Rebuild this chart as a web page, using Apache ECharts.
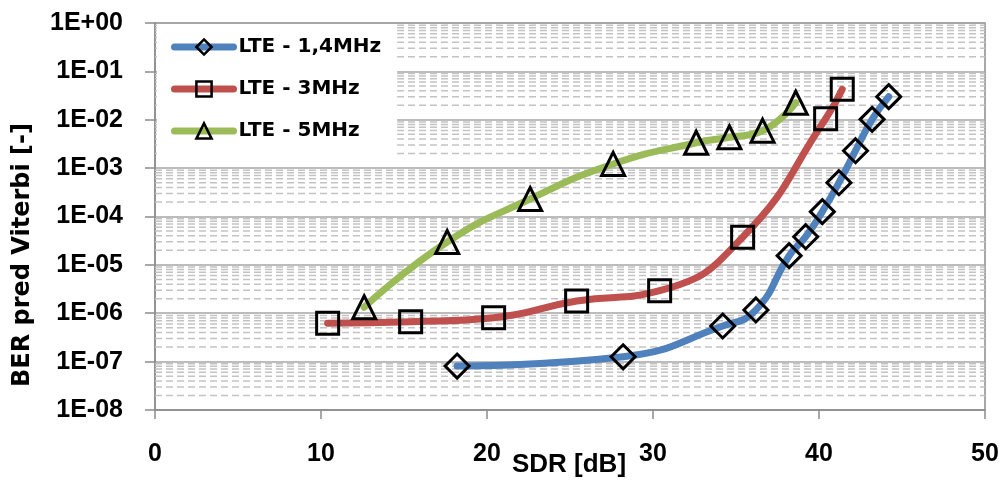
<!DOCTYPE html>
<html>
<head>
<meta charset="utf-8">
<script src="https://cdn.jsdelivr.net/npm/echarts@6/dist/echarts.min.js"></script>
<style>html,body{margin:0;padding:0;background:#fff}#c{width:1004px;height:481px}</style>
</head>
<body>
<div id="c"></div>
<script>
// ---- data ----
const SERIES_NAMES = ['LTE - 1,4MHz', 'LTE - 3MHz', 'LTE - 5MHz'];
const X_14 = [18.2, 28.2, 34.2, 36.2, 38.2, 39.2, 40.2, 41.2, 42.2, 43.2, 44.2];
const Y_14 = [8.1e-8, 1.26e-7, 5.45e-7, 1.17e-6, 1.55e-5, 3.82e-5, 1.26e-4, 5.0e-4, 2.29e-3, 1.02e-2, 3.0e-2];
const X_3 = [10.4, 15.4, 20.4, 25.4, 30.4, 35.4, 40.4, 41.4];
const Y_3 = [6.2e-7, 6.7e-7, 8.1e-7, 1.79e-6, 2.92e-6, 3.72e-5, 1.05e-2, 4.26e-2];
const X_5 = [12.6, 17.6, 22.6, 27.6, 32.6, 34.6, 36.6, 38.6];
const Y_5 = [1.33e-6, 2.97e-5, 2.3e-4, 1.22e-3, 3.35e-3, 4.34e-3, 5.94e-3, 2.25e-2];
const X_TICKS = [0, 10, 20, 30, 40, 50];
const Y_TICK_LABELS = ['1E-08', '1E-07', '1E-06', '1E-05', '1E-04', '1E-03', '1E-02', '1E-01', '1E+00'];
const X_TITLE = 'SDR [dB]';
const Y_TITLE = 'BER pred Viterbi [-]';

// minor (dashed) gridlines at 2..9 x 10^d
const MINOR_GRID = [];
for (let d = -8; d < 0; d++) for (let k = 2; k <= 9; k++) MINOR_GRID.push(k * Math.pow(10, d));

const pairs = (xs, ys) => xs.map((x, i) => [x, ys[i]]);
const COLORS = ['#4F81BD', '#C0504D', '#9BBB59'];
const SYMBOLS = ['diamond', 'rect', 'triangle'];
const SYMBOL_SIZES = [24, 22, 23];
const DATA = [pairs(X_14, Y_14), pairs(X_3, Y_3), pairs(X_5, Y_5)];

// dashed minor grid drawn as one broken line through the axes
const minorData = [];
MINOR_GRID.forEach(v => { minorData.push([0, v], [50, v], ['-', '-']); });

const numFont = '"Liberation Sans", Arial, sans-serif';
const txtFont = '"DejaVu Sans", sans-serif';

const chart = echarts.init(document.getElementById('c'), null, {renderer: 'canvas'});

const dataSeries = SERIES_NAMES.map((name, i) => ({
  name: name,
  type: 'line',
  data: DATA[i],
  smooth: 0.5,
  z: 3,
  symbol: SYMBOLS[i],
  symbolSize: SYMBOL_SIZES[i],
  lineStyle: {color: COLORS[i], width: 7, cap: 'round', join: 'round'},
  itemStyle: {color: 'rgba(0,0,0,0)', borderColor: '#000', borderWidth: 3},
  emphasis: {disabled: true}
}));

const option = {
  animation: false,
  backgroundColor: '#fff',
  grid: {left: 155, right: 19, top: 23, bottom: 71, show: true, borderColor: '#8C8C8C', borderWidth: 1.5, backgroundColor: 'transparent'},
  legend: {
    data: SERIES_NAMES.map((n, i) => ({
      name: n,
      lineStyle: {color: COLORS[i], width: 7, cap: 'round'},
      itemStyle: {color: 'rgba(0,0,0,0)', borderColor: '#000', borderWidth: 2.5}
    })),
    orient: 'vertical',
    left: 157, top: 24,
    padding: [12, 16, 23, 14],
    backgroundColor: '#fff',
    itemWidth: 59, itemHeight: 19, itemGap: 20,
    formatter: '{t|{name}}',
    textStyle: {fontFamily: txtFont, fontWeight: 'bold', fontSize: 20, color: '#000', lineHeight: 22,
      rich: {t: {fontFamily: txtFont, fontWeight: 'bold', fontSize: 20, color: '#000', lineHeight: 22}}},
    selectedMode: false
  },
  xAxis: {
    type: 'value', min: 0, max: 50, interval: 10,
    axisLine: {show: true, lineStyle: {color: '#8C8C8C', width: 1.5}},
    axisTick: {show: true, inside: false, length: 9, lineStyle: {color: '#8C8C8C', width: 1.5}},
    axisLabel: {margin: 32, fontFamily: numFont, fontWeight: 'bold', fontSize: 25, color: '#000',
      formatter: v => X_TICKS.indexOf(v) >= 0 ? String(v) : ''},
    splitLine: {show: false}
  },
  yAxis: {
    type: 'log', logBase: 10, min: 1e-8, max: 1, interval: 1,
    axisLine: {show: true, lineStyle: {color: '#8C8C8C', width: 1.5}},
    axisTick: {show: true, inside: false, length: 10, lineStyle: {color: '#8C8C8C', width: 1.5}},
    axisLabel: {margin: 32, fontFamily: numFont, fontWeight: 'bold', fontSize: 25, color: '#000',
      formatter: v => { const e = Math.round(Math.log10(v)); return Y_TICK_LABELS[e + 8] || ''; }},
    splitLine: {show: true, lineStyle: {color: '#A6A6A6', width: 1.5}},
    minorTick: {show: false}, minorSplitLine: {show: false}
  },
  graphic: [
    {type: 'text', x: 23, y: 255, rotation: Math.PI / 2, silent: true,
      style: {text: Y_TITLE, fontFamily: txtFont, fontWeight: 'bold', fontSize: 24, fill: '#000',
        align: 'center', verticalAlign: 'middle', textAlign: 'center', textVerticalAlign: 'middle'}},
    {type: 'text', x: 569, y: 465, silent: true,
      style: {text: X_TITLE, fontFamily: numFont, fontWeight: 'bold', fontSize: 26, fill: '#000',
        align: 'center', verticalAlign: 'middle', textAlign: 'center', textVerticalAlign: 'middle'}}
  ],
  series: [{
    name: '_minor', type: 'line', data: minorData, z: 1, silent: true,
    symbol: 'none', showSymbol: false, connectNulls: false, smooth: false,
    lineStyle: {type: [7, 4], color: '#C3C3C3', width: 1.5},
    emphasis: {disabled: true}, tooltip: {show: false}
  }].concat(dataSeries)
};
chart.setOption(option);
</script>
</body>
</html>
